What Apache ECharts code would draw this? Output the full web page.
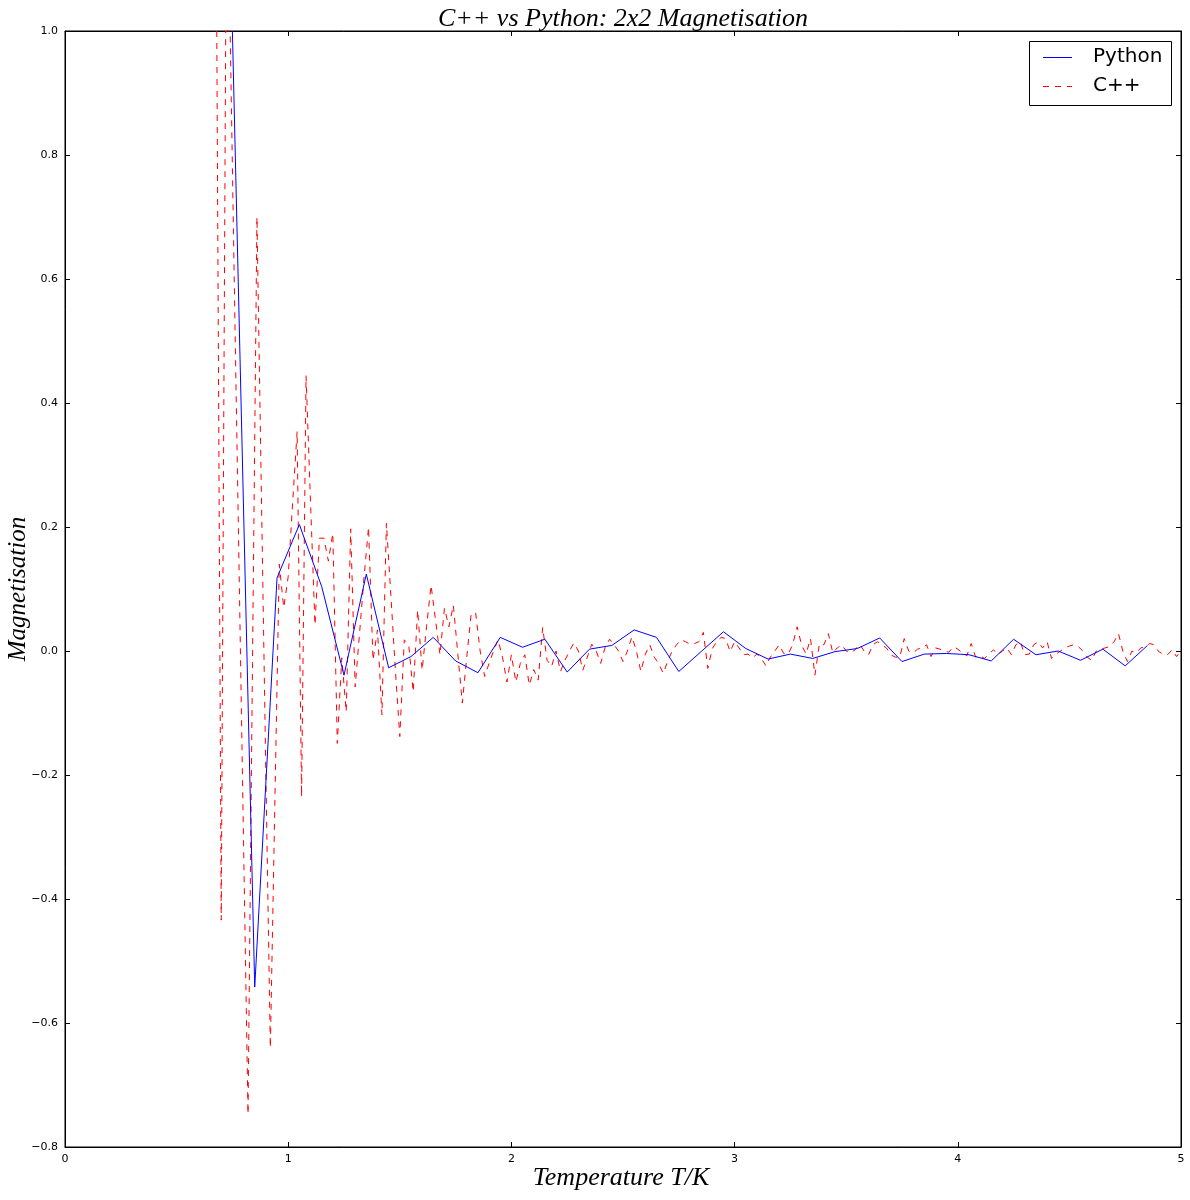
<!DOCTYPE html>
<html>
<head>
<meta charset="utf-8">
<script src="https://cdn.jsdelivr.net/npm/echarts@6/dist/echarts.min.js"></script>
<style>
html,body{margin:0;padding:0;background:#fff;}
#chart{width:1190px;height:1200px;}
</style>
</head>
<body>
<div id="chart"></div>
<script>
// ---- data ----
const titleText = "C++ vs Python: 2x2 Magnetisation";
const xLabelText = "Temperature T/K";
const yLabelText = "Magnetisation";
const seriesNames = ["Python", "C++"];
const seriesColors = ["#0000ff", "#ff0000"];

// Python: temperature / magnetisation
const pythonT = [0.75,0.85,0.95,1.05,1.15,1.25,1.35,1.45,1.55,1.65,1.75,1.85,1.95,2.05,2.15,2.25,2.35,2.45,2.55,2.65,2.75,2.85,2.95,3.05,3.15,3.25,3.35,3.45,3.55,3.65,3.75,3.85,3.95,4.05,4.15,4.25,4.35,4.45,4.55,4.65,4.75,4.85];
const pythonM = [1.0,-0.542,0.118,0.204,0.104,-0.039,0.124,-0.027,-0.009,0.022,-0.016,-0.035,0.022,0.006,0.019,-0.034,0.003,0.009,0.034,0.022,-0.033,-0.001,0.031,0.004,-0.013,-0.005,-0.012,-0.001,0.004,0.021,-0.017,-0.005,-0.004,-0.006,-0.016,0.019,-0.006,0.0,-0.015,0.003,-0.024,0.009];

// C++: [temperature, magnetisation]
const cppPoints = [
[0.68,1.0],[0.70,-0.434],[0.72,1.0],[0.74,1.0],[0.76,0.56],[0.78,0.13],[0.80,-0.31],[0.82,-0.747],[0.84,-0.02],[0.86,0.70],
[0.88,0.25],[0.90,-0.20],[0.92,-0.64],[0.94,-0.25],[0.96,0.14],[0.98,0.07],[1.00,0.12],[1.02,0.24],[1.04,0.354],[1.06,-0.235],
[1.08,0.444],[1.10,0.24],[1.12,0.042],[1.14,0.182],[1.16,0.182],[1.18,0.145],[1.20,0.19],[1.22,-0.149],[1.24,-0.011],[1.26,-0.098],
[1.28,0.197],[1.30,-0.058],[1.32,0.03],[1.34,0.12],[1.36,0.2],[1.38,-0.015],[1.40,0.034],[1.42,-0.103],[1.44,0.206],[1.46,0.09],
[1.48,-0.03],[1.50,-0.138],[1.52,0.018],[1.54,0.01],[1.56,-0.066],[1.58,0.066],[1.60,-0.031],[1.62,0.04],[1.64,0.106],[1.66,0.05],
[1.68,-0.006],[1.70,0.069],[1.72,0.039],[1.74,0.074],[1.76,-0.005],[1.78,-0.084],[1.80,-0.01],[1.82,0.061],[1.84,0.061],[1.86,0.0],
[1.88,-0.041],[1.90,-0.02],[1.92,0.0],[1.94,0.018],[1.96,-0.01],[1.98,-0.05],[2.00,-0.006],[2.02,-0.05],[2.04,-0.02],[2.06,-0.006],
[2.08,-0.055],[2.10,-0.03],[2.12,-0.047],[2.14,0.038],[2.16,-0.015],[2.18,-0.025],[2.20,0.0],[2.22,-0.033],[2.24,-0.015],[2.26,0.0],
[2.28,0.013],[2.30,0.0],[2.32,-0.031],[2.34,-0.01],[2.36,0.011],[2.38,0.0],[2.40,-0.02],[2.42,0.006],[2.44,0.019],[2.46,0.01],
[2.48,0.0],[2.50,-0.017],[2.52,0.0],[2.54,0.023],[2.56,0.0],[2.58,-0.033],[2.60,-0.005],[2.62,0.01],[2.64,-0.01],[2.66,-0.02],
[2.68,-0.036],[2.70,-0.017],[2.72,0.0],[2.74,0.01],[2.76,0.018],[2.78,0.015],[2.80,0.011],[2.82,0.012],[2.84,0.015],[2.86,0.03],
[2.88,-0.028],[2.90,0.004],[2.92,0.015],[2.94,0.022],[2.96,0.02],[2.98,-0.001],[3.00,0.015],[3.02,0.005],[3.04,-0.006],[3.06,-0.005],
[3.08,-0.011],[3.10,-0.005],[3.12,-0.012],[3.14,-0.024],[3.16,-0.01],[3.18,0.0],[3.20,0.01],[3.22,-0.004],[3.24,-0.005],[3.26,0.01],
[3.28,0.039],[3.30,0.01],[3.32,-0.005],[3.34,0.02],[3.36,-0.039],[3.38,0.012],[3.40,0.01],[3.42,0.028],[3.44,-0.003],[3.46,0.005],
[3.48,0.01],[3.50,0.0],[3.52,-0.003],[3.54,0.002],[3.56,0.011],[3.58,0.0],[3.60,-0.006],[3.62,0.01],[3.64,0.015],[3.66,0.01],
[3.68,0.005],[3.70,-0.006],[3.72,-0.01],[3.74,-0.01],[3.76,0.02],[3.78,0.0],[3.80,-0.003],[3.82,0.003],[3.84,0.005],[3.86,0.01],
[3.88,-0.009],[3.90,0.005],[3.92,0.003],[3.94,0.0],[3.96,-0.002],[3.98,0.007],[4.00,0.003],[4.02,-0.003],[4.04,-0.008],[4.06,0.012],
[4.08,-0.01],[4.10,-0.008],[4.12,-0.012],[4.14,-0.005],[4.16,0.002],[4.18,-0.006],[4.20,0.0],[4.22,0.005],[4.24,-0.006],[4.26,0.01],
[4.28,0.015],[4.30,-0.006],[4.32,-0.005],[4.34,0.01],[4.36,0.015],[4.38,0.005],[4.40,0.015],[4.42,-0.012],[4.44,-0.005],[4.46,0.0],
[4.48,0.005],[4.50,0.008],[4.52,0.01],[4.54,0.007],[4.56,0.0],[4.58,-0.01],[4.60,-0.015],[4.62,0.0],[4.64,0.003],[4.66,0.005],
[4.68,0.007],[4.70,0.015],[4.72,0.028],[4.74,-0.001],[4.76,-0.017],[4.78,0.0],[4.80,-0.003],[4.82,0.005],[4.84,0.007],[4.86,0.012],
[4.88,0.01],[4.90,-0.001],[4.92,-0.005],[4.94,-0.006],[4.96,0.002],[4.98,-0.009],[5.00,0.0]
];

// axis ranges / ticks
const xMin = 0, xMax = 5, xStep = 1;
const yMin = -0.8, yMax = 1.0, yStep = 0.2;

// ---- chart ----
const chart = echarts.init(document.getElementById('chart'), null, {renderer: 'canvas'});
const G = {left: 65, right: 9, top: 31, bottom: 53};
const plotCx = G.left + (1190 - G.left - G.right) / 2;
const plotCy = G.top + (1200 - G.top - G.bottom) / 2;

const fmtY = v => {
  const s = Math.abs(v).toFixed(1);
  return (v < -1e-9 ? '\u2212' : '') + s;
};
const tickStyle = {inside: true, length: 5, lineStyle: {color: '#000', width: 1}};
const lblFont = {color: '#000', fontFamily: 'DejaVu Sans', fontSize: 11};
const mathFont = {fontFamily: 'Liberation Serif', fontStyle: 'italic', fill: '#000'};

const pythonData = pythonT.map((t, i) => [t, pythonM[i]]);

// legend drawn as graphic elements (line samples + text)
const LG = {x: 1029, y: 41, w: 142, h: 64, rows: [57, 86], lineX0: 1043, lineX1: 1072, textX: 1093};
const legendGraphic = [
  {type: 'rect', shape: {x: LG.x + 0.5, y: LG.y + 0.5, width: LG.w, height: LG.h}, style: {fill: '#fff', stroke: '#000', lineWidth: 1}, z: 100},
  {type: 'line', shape: {x1: LG.lineX0, y1: LG.rows[0] + 0.5, x2: LG.lineX1, y2: LG.rows[0] + 0.5}, style: {stroke: seriesColors[0], lineWidth: 1}, z: 101},
  {type: 'line', shape: {x1: LG.lineX0, y1: LG.rows[1] + 0.5, x2: LG.lineX1, y2: LG.rows[1] + 0.5}, style: {stroke: seriesColors[1], lineWidth: 1, lineDash: [6, 6]}, z: 101},
  {type: 'text', x: LG.textX, y: LG.rows[0], style: {text: seriesNames[0], verticalAlign: 'middle', align: 'left', fontFamily: 'DejaVu Sans', fontSize: 20, fill: '#000'}, z: 101},
  {type: 'text', x: LG.textX, y: LG.rows[1], style: {text: seriesNames[1], verticalAlign: 'middle', align: 'left', fontFamily: 'DejaVu Sans', fontSize: 20, fill: '#000'}, z: 101}
];

chart.setOption({
  animation: false,
  backgroundColor: '#fff',
  grid: {left: G.left, right: G.right, top: G.top, bottom: G.bottom, show: true, borderColor: '#000', borderWidth: 1, containLabel: false},
  xAxis: [
    {type: 'value', min: xMin, max: xMax, interval: xStep, position: 'bottom',
     axisLine: {show: true, onZero: false, lineStyle: {color: '#000'}},
     axisTick: tickStyle, splitLine: {show: false},
     axisLabel: Object.assign({margin: 7}, lblFont)},
    {type: 'value', min: xMin, max: xMax, interval: xStep, position: 'top',
     axisLine: {show: true, onZero: false, lineStyle: {color: '#000'}},
     axisTick: tickStyle, splitLine: {show: false}, axisLabel: {show: false}}
  ],
  yAxis: [
    {type: 'value', min: yMin, max: yMax, interval: yStep, position: 'left',
     axisLine: {show: true, onZero: false, lineStyle: {color: '#000'}},
     axisTick: tickStyle, splitLine: {show: false},
     axisLabel: Object.assign({margin: 7, formatter: fmtY}, lblFont)},
    {type: 'value', min: yMin, max: yMax, interval: yStep, position: 'right',
     axisLine: {show: true, onZero: false, lineStyle: {color: '#000'}},
     axisTick: tickStyle, splitLine: {show: false}, axisLabel: {show: false}}
  ],
  graphic: [
    {type: 'text', x: plotCx, y: 19, style: Object.assign({text: titleText, align: 'center', verticalAlign: 'middle', fontSize: 26}, mathFont)},
    {type: 'text', x: plotCx - 2, y: 1178, style: Object.assign({text: xLabelText, align: 'center', verticalAlign: 'middle', fontSize: 26}, mathFont)},
    {type: 'text', x: 18, y: plotCy, rotation: Math.PI / 2, style: Object.assign({text: yLabelText, align: 'center', verticalAlign: 'middle', fontSize: 25}, mathFont)}
  ].concat(legendGraphic),
  series: [
    {name: seriesNames[0], type: 'line', data: pythonData, showSymbol: false, symbol: 'none', clip: true,
     lineStyle: {color: seriesColors[0], width: 1}, itemStyle: {color: seriesColors[0]}, z: 3},
    {name: seriesNames[1], type: 'line', data: cppPoints, showSymbol: false, symbol: 'none', clip: true,
     lineStyle: {color: seriesColors[1], width: 1, type: [6, 6]}, itemStyle: {color: seriesColors[1]}, z: 2}
  ]
});
</script>
</body>
</html>
